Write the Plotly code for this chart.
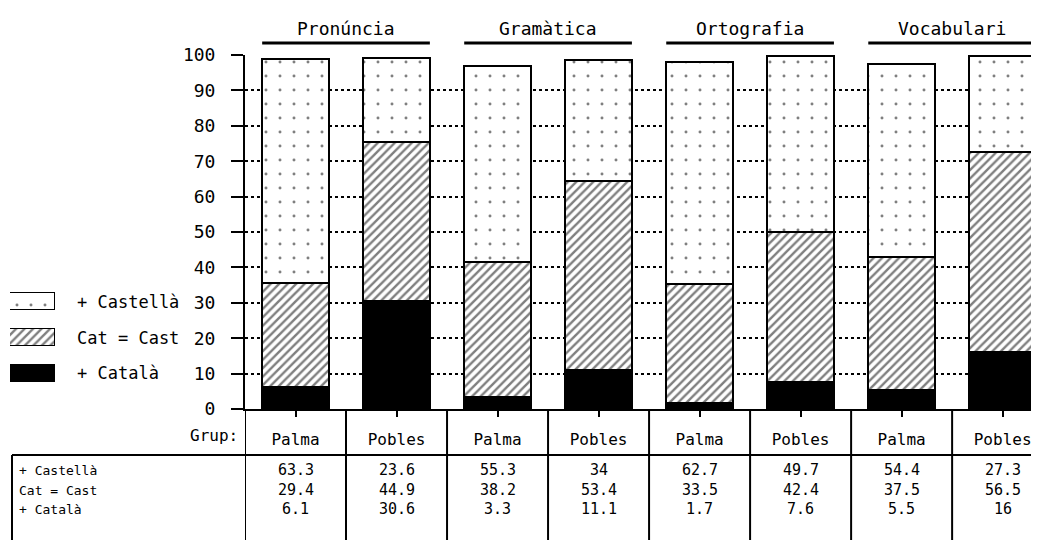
import plotly.graph_objects as go

# page is 1039x540; the html body has an 8px margin, so the figure starts at (8, 8)
PAGE_W, PAGE_H = 1039, 540
OFF = 8
FW, FH = PAGE_W - OFF, PAGE_H - OFF

# ---- data ----
aspectes = ["Pronúncia", "Gramàtica", "Ortografia", "Vocabulari"]
grups = ["Palma", "Pobles", "Palma", "Pobles", "Palma", "Pobles", "Palma", "Pobles"]
series_names = ["+ Castellà", "Cat = Cast", "+ Català"]
castella = [63.3, 23.6, 55.3, 34, 62.7, 49.7, 54.4, 27.3]
cat_cast = [29.4, 44.9, 38.2, 53.4, 33.5, 42.4, 37.5, 56.5]
catala = [6.1, 30.6, 3.3, 11.1, 1.7, 7.6, 5.5, 16]
y_ticks = [0, 10, 20, 30, 40, 50, 60, 70, 80, 90, 100]

FONT = "DejaVu Sans Mono"


def px(x):
    return (x - OFF) / FW


def py(y):
    return 1 - (y - OFF) / FH


# plot area in page pixels
X0, X1 = 245, PAGE_W
Y_TOP, Y_BOT = 55, 409

xs = list(range(len(grups)))
line = dict(color="black", width=2)

styles = {
    "+ Català": dict(color="black", pattern=None),
    "Cat = Cast": dict(color="white",
                       pattern=dict(shape="/", fgcolor="black", bgcolor="white",
                                    size=6, solidity=0.4, fillmode="overlay")),
    "+ Castellà": dict(color="white",
                       pattern=dict(shape=".", fgcolor="black", bgcolor="white",
                                    size=14, solidity=0.035, fillmode="overlay")),
}

fig = go.Figure()
for name, vals in [("+ Català", catala), ("Cat = Cast", cat_cast), ("+ Castellà", castella)]:
    st = styles[name]
    marker = dict(color=st["color"], line=line)
    if st["pattern"]:
        marker["pattern"] = st["pattern"]
    fig.add_trace(go.Bar(x=xs, y=vals, name=name, width=0.66, marker=marker,
                         showlegend=False, xaxis="x", yaxis="y"))

# legend swatches (small subplot)
for name in series_names:
    st = styles[name]
    marker = dict(color=st["color"], line=dict(color="black", width=1.5))
    if st["pattern"]:
        marker["pattern"] = st["pattern"]
    fig.add_trace(go.Bar(x=[1], y=[name], orientation="h", width=0.48, marker=marker,
                         showlegend=False, xaxis="x2", yaxis="y2", hoverinfo="skip"))

annotations = []
shapes = []

# legend labels
leg_y = [302, 338, 373]
for name, yy in zip(series_names, leg_y):
    annotations.append(dict(x=px(75), y=py(yy), xref="paper", yref="paper", text=name,
                            showarrow=False, xanchor="left", yanchor="middle",
                            font=dict(family=FONT, size=17, color="black")))

# aspect titles and underlines
for g, a in enumerate(aspectes):
    annotations.append(dict(x=2 * g + 0.5, y=py(28), xref="x", yref="paper", text=a,
                            showarrow=False, xanchor="center", yanchor="middle",
                            font=dict(family=FONT, size=18, color="black")))
    shapes.append(dict(type="line", xref="x", yref="paper", x0=2 * g - 0.33, x1=2 * g + 1.33,
                       y0=py(43), y1=py(43), line=dict(color="black", width=3)))

# table
annotations.append(dict(x=px(240), y=py(435), xref="paper", yref="paper", text="Grup:",
                        showarrow=False, xanchor="right", yanchor="middle",
                        font=dict(family=FONT, size=16, color="black")))
row_y = [470, 490, 509]
for name, vals, yy in zip(series_names, [castella, cat_cast, catala], row_y):
    annotations.append(dict(x=px(17), y=py(yy), xref="paper", yref="paper", text=name,
                            showarrow=False, xanchor="left", yanchor="middle",
                            font=dict(family=FONT, size=13, color="black")))
    for i, v in enumerate(vals):
        annotations.append(dict(x=i, y=py(yy), xref="x", yref="paper", text=f"{v:g}",
                                showarrow=False, xanchor="center", yanchor="middle",
                                font=dict(family=FONT, size=15, color="black")))

for i in range(len(grups)):
    shapes.append(dict(type="line", xref="x", yref="paper", x0=i - 0.5, x1=i - 0.5,
                       y0=py(Y_BOT), y1=0, line=dict(color="black", width=2)))
shapes.append(dict(type="line", xref="paper", yref="paper", x0=px(12), x1=1,
                   y0=py(455), y1=py(455), line=dict(color="black", width=2)))
shapes.append(dict(type="line", xref="paper", yref="paper", x0=px(12), x1=px(12),
                   y0=py(455), y1=0, line=dict(color="black", width=2)))

fig.update_layout(
    template="none",
    width=FW, height=FH,
    margin=dict(l=0, r=0, t=0, b=0, autoexpand=False),
    paper_bgcolor="white", plot_bgcolor="white",
    barmode="stack", bargap=0,
    showlegend=False,
    font=dict(family=FONT, color="black"),
    xaxis=dict(domain=[px(X0), 1], range=[-0.5, 7.36], tickvals=xs, ticktext=grups,
               ticks="outside", ticklen=6, tickwidth=2, tickcolor="black",
               ticklabelstandoff=9, tickfont=dict(family=FONT, size=16, color="black"),
               showline=True, linecolor="black", linewidth=2, showgrid=False,
               zeroline=False, fixedrange=True, automargin=False),
    yaxis=dict(domain=[py(Y_BOT), py(Y_TOP)], range=[0, 100], tickvals=y_ticks,
               ticks="outside", ticklen=12, tickwidth=2, tickcolor="black",
               ticklabelstandoff=12, tickfont=dict(family=FONT, size=18, color="black"),
               showline=True, linecolor="black", linewidth=2,
               showgrid=True, gridcolor="black", gridwidth=1.5, griddash="dot",
               zeroline=False, fixedrange=True, automargin=False),
    xaxis2=dict(domain=[px(10), px(55)], range=[0, 1], visible=False, anchor="y2",
                fixedrange=True, automargin=False),
    yaxis2=dict(domain=[py(391), py(284)], range=[2.5, -0.5], visible=False, anchor="x2",
                categoryorder="array", categoryarray=series_names, fixedrange=True,
                automargin=False),
    annotations=annotations,
    shapes=shapes,
)

fig.write_html("out.html")
